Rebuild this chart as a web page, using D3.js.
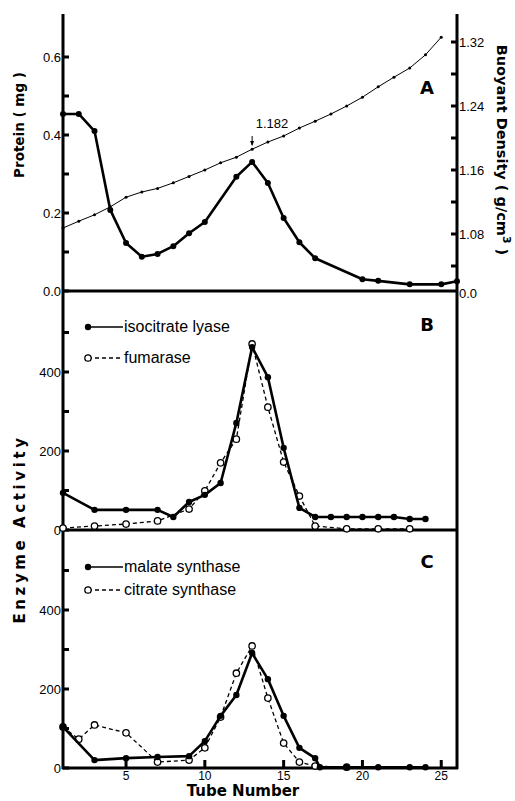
<!DOCTYPE html>
<html><head><meta charset="utf-8">
<script src="https://cdn.jsdelivr.net/npm/d3@7"></script>
<style>body{margin:0;background:#fff}svg{display:block}</style>
</head><body>
<script>
// ---- data ----
const proteinTubes = [1,2,3,4,5,6,7,8,9,10,12,13,14,15,16,17,20,21,23,25,26];
const proteinMg    = [0.454,0.454,0.41,0.208,0.123,0.088,0.095,0.115,0.148,0.177,0.293,0.331,0.277,0.187,0.125,0.084,0.030,0.026,0.017,0.017,0.025];
const densityTubes = [1,2,3,4,5,6,7,8,9,10,11,12,13,14,15,16,17,18,19,20,21,22,23,24,25];
const densityVals  = [1.0875,1.096,1.104,1.114,1.126,1.1325,1.137,1.144,1.152,1.160,1.169,1.176,1.186,1.195,1.2025,1.2125,1.221,1.230,1.240,1.251,1.264,1.276,1.2875,1.304,1.326];
const iclTubes = [1,3,5,7,8,9,10,11,12,13,14,15,16,17,18,19,20,21,22,23,24];
const iclVals  = [94,51,51,51,33,71,89,119,271,463,387,208,56,33,33,33,33,33,33,28,28];
const fumTubes = [1,3,5,7,9,10,11,12,13,14,15,16,17,19,21,23];
const fumVals  = [5,10,15,23,53,99,170,230,471,311,172,86,10,3,3,3];
const msTubes = [1,3,5,7,9,10,11,12,13,14,15,16,17,17.3,19,21,23,24];
const msVals  = [104,20,25,28,30,68,132,185,291,225,132,51,25,2,2,2,2,2];
const csTubes = [1,2,3,5,7,9,10,11,12,13,14,15,16,17,19];
const csVals  = [104,73,109,89,15,20,51,129,240,309,177,63,15,5,2];
const xTicks = [5,10,15,20,25];
const proteinTicks = [0,0.2,0.4,0.6];
const densityTicks = [1.08,1.16,1.24,1.32];
const enzymeTicks = [0,200,400];

const W=515,H=801;
const svg=d3.select("body").append("svg").attr("width",W).attr("height",H);
const x=d3.scaleLinear().domain([1,26]).range([63,457]);
const yA=d3.scaleLinear().domain([0,0.7]).range([291,18]);
const yD=d3.scaleLinear().domain([1.08,1.32]).range([234,42]);
const yB=d3.scaleLinear().domain([0,600]).range([530,293]);
const yC=d3.scaleLinear().domain([0,600]).range([768,531]);
const tickFont="'Liberation Sans', Arial, sans-serif";

// frame
const fr=svg.append("g").attr("stroke","#000").attr("stroke-width",3).attr("fill","none");
fr.append("line").attr("x1",63).attr("x2",63).attr("y1",14).attr("y2",769);
fr.append("line").attr("x1",457).attr("x2",457).attr("y1",14).attr("y2",769);
[291,530,768].forEach(y=>fr.append("line").attr("x1",62).attr("x2",458).attr("y1",y).attr("y2",y));

// left ticks (inside)
function leftTicks(scale, majors, minors, fmt){
  const g=svg.append("g");
  minors.forEach(v=>g.append("line").attr("x1",63).attr("x2",69).attr("y1",scale(v)).attr("y2",scale(v)).attr("stroke","#000").attr("stroke-width",3));
  majors.forEach(v=>{
    g.append("line").attr("x1",63).attr("x2",69).attr("y1",scale(v)).attr("y2",scale(v)).attr("stroke","#000").attr("stroke-width",3);
    g.append("text").attr("x",61).attr("y",scale(v)).attr("dy","0.36em").attr("text-anchor","end")
      .attr("font-family",tickFont).attr("font-size",13).text(fmt(v));
  });
}
leftTicks(yA, proteinTicks, [0.1,0.3,0.5], d3.format(".1f"));
leftTicks(yB, enzymeTicks, [100,300,500], d3.format("d"));
leftTicks(yC, enzymeTicks, [100,300,500], d3.format("d"));

// right density ticks (inside)
const rg=svg.append("g");
[1.04,1.12,1.20,1.28].concat(densityTicks).forEach(v=>rg.append("line").attr("x1",451).attr("x2",457).attr("y1",yD(v)).attr("y2",yD(v)).attr("stroke","#000").attr("stroke-width",3));
densityTicks.forEach(v=>rg.append("text").attr("x",459).attr("y",yD(v)).attr("dy","0.36em").attr("font-family",tickFont).attr("font-size",13).text(d3.format(".2f")(v)));
rg.append("text").attr("x",459).attr("y",293).attr("dy","0.36em").attr("font-family",tickFont).attr("font-size",13).text("0.0");

// x ticks
const xg=svg.append("g");
xTicks.forEach(v=>{
  xg.append("line").attr("x1",x(v)).attr("x2",x(v)).attr("y1",768).attr("y2",760).attr("stroke","#000").attr("stroke-width",3);
  xg.append("text").attr("x",x(v)).attr("y",776).attr("dy","0.36em").attr("text-anchor","middle").attr("font-family",tickFont).attr("font-size",12).text(v);
});

// axis titles
const titleFont="'DejaVu Sans', sans-serif";
svg.append("text").attr("transform","translate(24,125) rotate(-90)").attr("text-anchor","middle")
  .attr("font-family",titleFont).attr("font-weight","bold").attr("font-size",13.5).text("Protein ( mg )");
svg.append("text").attr("transform","translate(25,529) rotate(-90)").attr("text-anchor","middle")
  .attr("font-family",titleFont).attr("font-weight","bold").attr("font-size",15).attr("letter-spacing","3.6px").text("Enzyme    Activity");
const bd=svg.append("text").attr("transform","translate(497,150) rotate(90)").attr("text-anchor","middle")
  .attr("font-family",titleFont).attr("font-weight","bold").attr("font-size",14.5);
bd.append("tspan").text("Buoyant  Density  ( g/cm");
bd.append("tspan").attr("dy",-6).attr("font-size",11).text("3");
bd.append("tspan").attr("dy",6).text(" )");
svg.append("text").attr("x",243).attr("y",796).attr("text-anchor","middle")
  .attr("font-family",titleFont).attr("font-weight","bold").attr("font-size",15).text("Tube Number");

// panel letters
[["A",88],["B",325],["C",562]].forEach(([t,y])=>svg.append("text").attr("x",427).attr("y",y).attr("dy","0.36em").attr("text-anchor","middle")
  .attr("font-family",titleFont).attr("font-weight","bold").attr("font-size",18).text(t));

// series helper
function series(tubes, vals, ys, opt){
  const pts=tubes.map((t,i)=>[x(t),ys(vals[i])]);
  svg.append("path").attr("d",d3.line()(pts)).attr("fill","none").attr("stroke","#000")
    .attr("stroke-width",opt.w).attr("stroke-dasharray",opt.dash||null).attr("stroke-linejoin","round");
  svg.append("g").selectAll("circle").data(pts).join("circle").attr("cx",d=>d[0]).attr("cy",d=>d[1]).attr("r",opt.r)
    .attr("fill",opt.open?"#fff":"#000").attr("stroke","#000").attr("stroke-width",opt.open?1.3:0);
}
// Panel A
series(densityTubes, densityVals, yD, {w:1,r:1.5});
series(proteinTubes, proteinMg, yA, {w:2.6,r:3});
// annotation 1.182
svg.append("text").attr("x",272).attr("y",123).attr("dy","0.36em").attr("text-anchor","middle").attr("font-family",tickFont).attr("font-size",13).text("1.182");
svg.append("line").attr("x1",x(13)).attr("x2",x(13)).attr("y1",136).attr("y2",145).attr("stroke","#000").attr("stroke-width",1);
svg.append("path").attr("d",`M${x(13)-2},${141}L${x(13)+2},${141}L${x(13)},${146}Z`).attr("fill","#000");

// Panel B
series(fumTubes, fumVals, yB, {w:1.3,r:3.2,open:true,dash:"4,3"});
series(iclTubes, iclVals, yB, {w:2.6,r:3.2});
// Panel C
series(csTubes, csVals, yC, {w:1.3,r:3.2,open:true,dash:"4,3"});
series(msTubes, msVals, yC, {w:2.6,r:3.2});

// legends
function legend(y, label, open){
  svg.append("line").attr("x1",88).attr("x2",123).attr("y1",y).attr("y2",y).attr("stroke","#000").attr("stroke-width",1.3).attr("stroke-dasharray",open?"4,3":null);
  svg.append("circle").attr("cx",88).attr("cy",y).attr("r",3.2).attr("fill",open?"#fff":"#000").attr("stroke","#000").attr("stroke-width",open?1.3:0);
  svg.append("text").attr("x",124).attr("y",y).attr("dy","0.33em").attr("font-family",tickFont).attr("font-size",16).text(label);
}
legend(327,"isocitrate lyase",false);
legend(358,"fumarase",true);
legend(567,"malate synthase",false);
legend(590,"citrate synthase",true);
</script>
</body></html>
